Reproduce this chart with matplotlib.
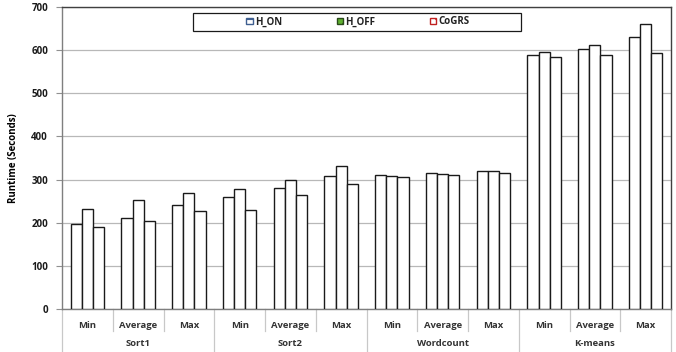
import numpy as np
import matplotlib.pyplot as plt
from matplotlib.patches import Patch, Rectangle
from matplotlib.lines import Line2D

plt.rcParams['font.family'] = ['Open Sans', 'DejaVu Sans']
plt.rcParams['font.weight'] = 'bold'
plt.rcParams['hatch.linewidth'] = 0.9

# runtimes in seconds
workloads = ['Sort1', 'Sort2', 'Wordcount', 'K-means']
stats = ['Min', 'Average', 'Max']
series = ['H_ON', 'H_OFF', 'CoGRS']
h_on = [196, 212, 240, 260, 280, 308, 310, 315, 321, 588, 602, 631]
h_off = [231, 252, 270, 277, 300, 331, 308, 314, 320, 596, 611, 661]
cogrs = [189, 205, 227, 229, 264, 289, 307, 311, 315, 585, 589, 594]

W, H = 676, 352
fig = plt.figure(figsize=(W / 100, H / 100), dpi=100)
ax = fig.add_axes([62 / W, (H - 309) / H, 609 / W, 302 / H])

x = np.arange(len(h_on))
bw = 0.22
for off, vals in zip([-bw, 0, bw], [h_on, h_off, cogrs]):
    ax.bar(x + off, vals, bw, color='white', edgecolor='#1a1a1a', linewidth=1.0, zorder=3)

ax.set_xlim(-0.5, len(h_on) - 0.5)
ax.set_ylim(0, 700)
ax.set_yticks(range(0, 701, 100))
ax.tick_params(axis='y', labelsize=7, colors='#909090', length=4, width=0.8, pad=6)
for t in ax.get_yticklabels():
    t.set_color('#1a1a1a')
    t.set_fontweight('bold')
ax.set_xticks([])
ax.grid(axis='y', color='#b8b8b8', linewidth=0.9, zorder=0)
ax.spines['left'].set_color('#7f7f7f')
ax.spines['bottom'].set_color('#7f7f7f')
ax.spines['top'].set_color('#404040')
ax.spines['right'].set_color('#404040')
for s in ax.spines.values():
    s.set_linewidth(1.0)
ax.set_ylabel('Runtime (Seconds)', fontsize=7, fontweight='bold', labelpad=9)

# two-level category axis below the plot
tr = ax.get_xaxis_transform()
y_sep = -22 / 302
y_end = -43 / 302
for i in range(len(h_on)):
    ax.text(i, -16 / 302, stats[i % 3], transform=tr, ha='center', va='center',
            fontsize=6.8, fontweight='bold', color='#333333')
for g, name in enumerate(workloads):
    ax.text(3 * g + 1, -34.5 / 302, name, transform=tr, ha='center', va='center',
            fontsize=6.8, fontweight='bold', color='#333333')
for b in np.arange(len(h_on) + 1) - 0.5:
    bottom = y_end if (b + 0.5) % 3 == 0 else y_sep
    ax.add_line(Line2D([b, b], [0, bottom], transform=tr, color='#c8c8c8',
                       linewidth=0.9, clip_on=False))

# legend: entries without frame, box drawn separately so it can be wider
handles = [
    Patch(facecolor='white', edgecolor='#3f5f90', hatch='---', label=series[0]),
    Patch(facecolor='#5fb030', edgecolor='#2a4a1a', hatch='//', label=series[1]),
    Patch(facecolor='white', edgecolor='#c02020', hatch='\\\\', label=series[2]),
]
leg = fig.legend(handles=handles, ncol=3, loc='center',
                 bbox_to_anchor=(358 / W, 1 - 22 / H), fontsize=7,
                 handlelength=0.65, handleheight=0.65, handletextpad=0.25,
                 columnspacing=5.6, borderpad=0, borderaxespad=0,
                 frameon=False)
for t in leg.get_texts():
    t.set_fontweight('bold')
    t.set_color('#222222')
fig.patches.append(Rectangle((193 / W, 1 - 30.5 / H), 328 / W, 17 / H,
                             transform=fig.transFigure, facecolor='white',
                             edgecolor='#1a1a1a', linewidth=0.9, zorder=4))
leg.set_zorder(5)

fig.savefig('out.png', dpi=100)
